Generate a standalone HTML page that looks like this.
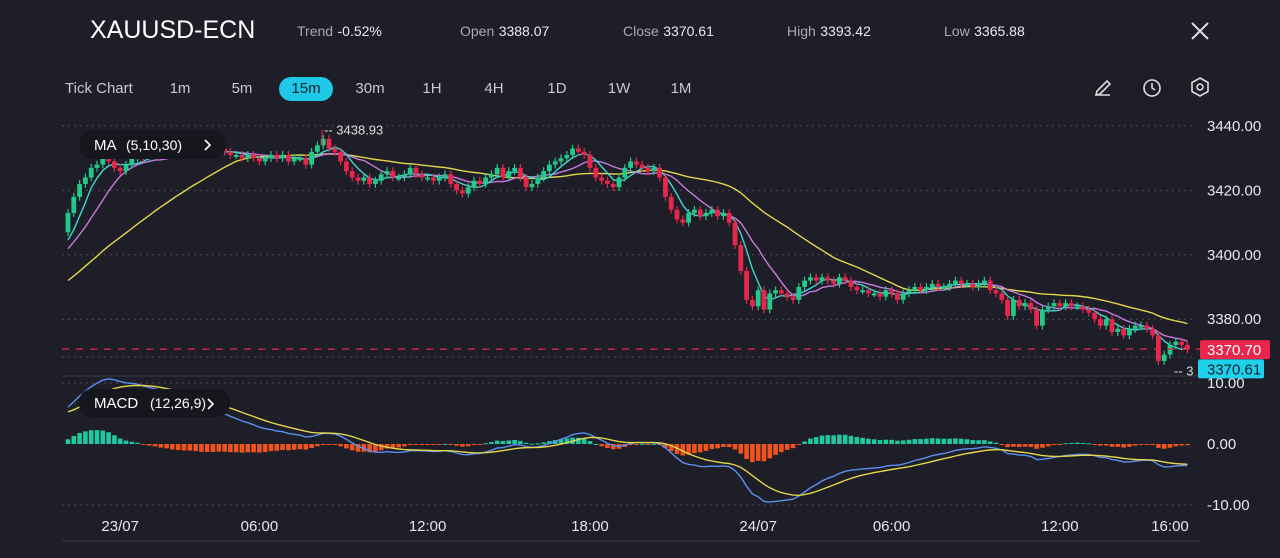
<!DOCTYPE html>
<html><head><meta charset="utf-8"><style>
body{margin:0;background:#1e1e28;width:1280px;height:558px;overflow:hidden;font-family:"Liberation Sans",sans-serif;color:#fff}
.hdr{position:absolute;top:0;left:0;width:1280px;height:120px}
.t{position:absolute;white-space:nowrap}
.lbl{color:#a9a9b3;font-size:14px}
.val{color:#e8e8ee;font-size:14px}
.tf{position:absolute;top:77px;height:24px;line-height:24px;font-size:15px;color:#c8c8d0;text-align:center}
</style></head><body>
<div class="hdr">
<div class="t" style="left:90px;top:16px;font-size:25px">XAUUSD-ECN</div>
<div class="t" style="left:297px;top:23px"><span class="lbl">Trend</span> <span class="val">-0.52%</span></div>
<div class="t" style="left:460px;top:23px"><span class="lbl">Open</span> <span class="val">3388.07</span></div>
<div class="t" style="left:623px;top:23px"><span class="lbl">Close</span> <span class="val">3370.61</span></div>
<div class="t" style="left:787px;top:23px"><span class="lbl">High</span> <span class="val">3393.42</span></div>
<div class="t" style="left:944px;top:23px"><span class="lbl">Low</span> <span class="val">3365.88</span></div>
<svg class="t" style="left:1190px;top:21px" width="20" height="20"><path d="M2 2L18 18M18 2L2 18" stroke="#ddd" stroke-width="2"/></svg>
<div class="tf" style="left:65px;width:80px;text-align:left">Tick Chart</div>
<div class="tf" style="left:163px;width:34px">1m</div>
<div class="tf" style="left:225px;width:34px">5m</div>
<div class="tf" style="left:279px;width:54px;background:#1fc8e6;color:#10202a;border-radius:12px">15m</div>
<div class="tf" style="left:350px;width:40px">30m</div>
<div class="tf" style="left:415px;width:34px">1H</div>
<div class="tf" style="left:477px;width:34px">4H</div>
<div class="tf" style="left:540px;width:34px">1D</div>
<div class="tf" style="left:602px;width:34px">1W</div>
<div class="tf" style="left:664px;width:34px">1M</div>
<svg class="t" style="left:1093px;top:78px" width="20" height="20"><path d="M3 17L4 13L14 3L17 6L7 16Z M3 17H17" stroke="#ddd" stroke-width="1.6" fill="none"/></svg>
<svg class="t" style="left:1141px;top:77px" width="22" height="22"><circle cx="11" cy="11" r="8" stroke="#ddd" stroke-width="1.6" fill="none"/><path d="M11 6V11L14 13" stroke="#ddd" stroke-width="1.6" fill="none"/></svg>
<svg class="t" style="left:1189px;top:76px" width="22" height="22"><path d="M11 2L19 6.5V15.5L11 20L3 15.5V6.5Z" stroke="#ddd" stroke-width="1.6" fill="none"/><circle cx="11" cy="11" r="3" stroke="#ddd" stroke-width="1.6" fill="none"/></svg>
</div>
<svg id="chart" style="position:absolute;left:0;top:0" width="1280" height="558"></svg>
<script>
const pre=[3376,3378,3377,3380,3382,3381,3384,3386,3385,3387,3389,3388,3391,3392,3390,3393,3395,3394,3396,3398,3397,3399,3400,3399,3401,3402,3401,3403,3404];
const closes=[3413,3418,3422,3424,3427,3428,3430,3429,3427,3426,
3428,3430,3431,3430,3431,3432,3431,3432,3431,3432,
3432,3433,3432,3431,3432,3432,3433,3432,3431,3431,
3430,3431,3430,3429,3430,3431,3430,3431,3429,3430,
3430,3428,3432,3434,3436,3433,3432,3429,3426,3424,
3423,3424,3422,3423,3425,3426,3424,3424,3425,3427,
3425,3424,3424,3423,3424,3425,3422,3420,3419,3421,
3423,3422,3424,3425,3427,3424,3426,3427,3424,3421,
3422,3424,3426,3428,3429,3430,3431,3433,3432,3431,
3427,3424,3423,3422,3421,3424,3427,3429,3428,3427,
3426,3427,3424,3418,3414,3411,3410,3413,3414,3412,
3413,3414,3412,3413,3410,3403,3395,3386,3384,3389,
3383,3388,3389,3388,3387,3386,3390,3392,3393,3392,
3393,3392,3391,3393,3392,3390,3389,3389,3388,3388,
3387,3389,3388,3386,3388,3389,3390,3389,3390,3391,
3390,3390,3391,3392,3391,3391,3390,3391,3392,3389,
3388,3386,3381,3386,3384,3385,3383,3378,3383,3384,
3385,3384,3385,3384,3384,3383,3382,3380,3378,3380,
3376,3377,3375,3377,3378,3378,3377,3375,3367,3369,
3372,3373,3372,3370.61];
const priceTicks=[3440,3420,3400,3380];
const macdTicks=[10,0,-10];
const timeLabels=["23/07","06:00","12:00","18:00","24/07","06:00","12:00","16:00"];
const timeIdx=[9,33,62,90,119,142,171,190];
const maxPrice=3438.93, lastPrice=3370.70, closePrice=3370.61;

const svg=document.getElementById('chart');const NS='http://www.w3.org/2000/svg';
function el(t,a,p){const e=document.createElementNS(NS,t);for(const k in a)e.setAttribute(k,a[k]);(p||svg).appendChild(e);return e;}
const X=i=>68+i*5.8;
const Y=v=>126+(3440-v)*3.22;
const MY=v=>444-v*6.1;
priceTicks.forEach(v=>{const g=el('line',{x1:62,x2:1195,y1:Y(v),y2:Y(v),stroke:'#4a4a58','stroke-dasharray':'2 4'});
const t=el('text',{x:1207,y:Y(v)+5,fill:'#e6e6ec','font-size':15});t.textContent=v.toFixed(2);});
el('line',{x1:62,x2:1195,y1:357,y2:357,stroke:'#4a4a58','stroke-dasharray':'2 4'});
el('line',{x1:62,x2:1200,y1:376,y2:376,stroke:'#3a3a48'});
macdTicks.forEach(v=>{if(v!==0){el('line',{x1:62,x2:1195,y1:MY(v),y2:MY(v),stroke:'#4a4a58','stroke-dasharray':'2 4'});}
const t=el('text',{x:1207,y:MY(v)+5,fill:'#e6e6ec','font-size':15});t.textContent=v.toFixed(2);});
el('line',{x1:62,x2:1200,y1:541,y2:541,stroke:'#3a3a48'});
const all=pre.concat(closes);
function sma(n){return closes.map((c,i)=>{let s=0;for(let k=0;k<n;k++)s+=all[pre.length+i-k];return s/n;});}
function path(arr,f){return arr.map((v,i)=>(i?'L':'M')+X(i).toFixed(1)+' '+f(v).toFixed(1)).join('');}
[[30,'#e3d64a'],[10,'#c77be0'],[5,'#3fd6d2']].forEach(([n,c])=>{const p=el('path',{d:path(sma(n),Y),stroke:c,fill:'none','stroke-width':1.4});});
closes.forEach((c,i)=>{const o=i?closes[i-1]:pre[pre.length-1]+3;const up=c>=o;const col=up?'#22c98a':'#e8254a';
const hi=Math.max(o,c)+1.2,lo=Math.min(o,c)-1.2;
const g=el('g',{});
el('line',{x1:X(i),x2:X(i),y1:Y(hi),y2:Y(lo),stroke:col,'stroke-width':1.2},g);
const top=Y(Math.max(o,c)),h=Math.max(2,Y(Math.min(o,c))-top);
el('rect',{x:X(i)-2.4,y:top,width:4.8,height:h,fill:col},g);});
el('line',{x1:322,x2:322,y1:Y(maxPrice),y2:Y(3434),stroke:'#e8254a'});
const mt=el('text',{x:324,y:Y(maxPrice)+5,fill:'#ddd','font-size':13});mt.textContent='-- '+maxPrice.toFixed(2);
el('line',{x1:62,x2:1200,y1:Y(lastPrice),y2:Y(lastPrice),stroke:'#e8254a','stroke-dasharray':'7 7','stroke-width':1.2});
const lp=el('g',{});
el('rect',{x:1200,y:Y(lastPrice)-9,width:70,height:19,rx:2,fill:'#e8254a'},lp);
const lt=el('text',{x:1207,y:Y(lastPrice)+6,fill:'#fff','font-size':15},lp);lt.textContent=lastPrice.toFixed(2);
const cp=el('g',{});
el('text',{x:1174,y:Y(closePrice)+26,fill:'#ddd','font-size':13},cp).textContent='-- 3';
el('rect',{x:1198,y:Y(closePrice)+10,width:66,height:19,rx:2,fill:'#1fd0ea'},cp);
el('text',{x:1207,y:Y(closePrice)+25,fill:'#10202a','font-size':15},cp).textContent=closePrice.toFixed(2);
function ema(arr,n){const k=2/(n+1);let e=arr[0];return arr.map(v=>e=v*k+e*(1-k));}
const e12=ema(all,12),e26=ema(all,26);const macdAll=e12.map((v,i)=>v-e26[i]);const sigAll=ema(macdAll,9);
const macd=macdAll.slice(pre.length),sig=sigAll.slice(pre.length);
macd.forEach((m,i)=>{const h=m-sig[i];const r=el('rect',{x:X(i)-2.3,y:Math.min(MY(h),MY(0)),width:4.6,height:Math.max(1,Math.abs(MY(h)-MY(0))),fill:h>=0?'#1fc8a0':'#f0531c'});});
const ml=el('path',{d:path(macd,MY),stroke:'#5b8ef0',fill:'none','stroke-width':1.4});
const sl=el('path',{d:path(sig,MY),stroke:'#e3d64a',fill:'none','stroke-width':1.4});
timeLabels.forEach((l,k)=>{const t=el('text',{x:X(timeIdx[k]),y:531,fill:'#e6e6ec','font-size':15,'text-anchor':'middle'});t.textContent=l;});
const ma=el('g',{});
el('rect',{x:79,y:130,width:147,height:29,rx:14,fill:'#16161e'},ma);
el('text',{x:94,y:150,fill:'#fff','font-size':15},ma).textContent='MA';
el('text',{x:126,y:150,fill:'#fff','font-size':14},ma).textContent='(5,10,30)';
el('path',{d:'M205 140L210 145L205 150',stroke:'#fff',fill:'none','stroke-width':1.6},ma);
const mc=el('g',{});
el('rect',{x:79,y:389,width:151,height:28,rx:13,fill:'#16161e'},mc);
el('text',{x:94,y:408,fill:'#fff','font-size':15},mc).textContent='MACD';
el('text',{x:150,y:408,fill:'#fff','font-size':14},mc).textContent='(12,26,9)';
el('path',{d:'M208 399L213 404L208 409',stroke:'#fff',fill:'none','stroke-width':1.6},mc);
</script>
</body></html>
